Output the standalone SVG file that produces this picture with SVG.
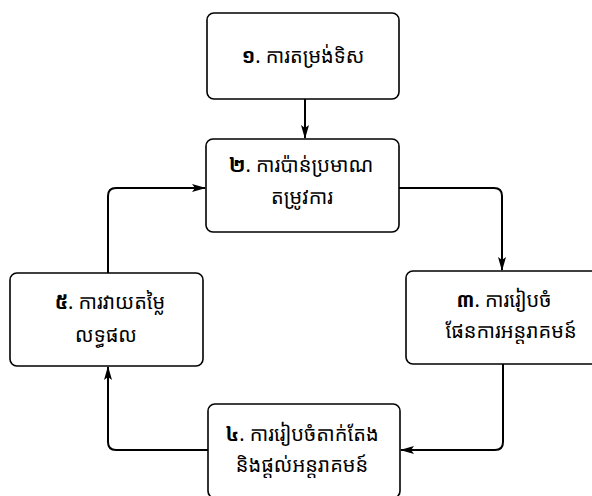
<svg xmlns="http://www.w3.org/2000/svg" width="592" height="496" viewBox="0 0 592 496">
<style>
.box{fill:#fff;stroke:#000;stroke-width:1.6}
.t{font-family:"Noto Sans Khmer","Khmer OS","Khmer OS Siemreap","Noto Serif Khmer","DejaVu Sans",sans-serif;font-size:20px;fill:#000;text-anchor:middle}
.n{font-weight:bold}
.c{fill:none;stroke:#000;stroke-width:2}
</style>
<defs>
<marker id="ah" viewBox="0 0 14 8" refX="13" refY="4" markerWidth="14" markerHeight="8" markerUnits="userSpaceOnUse" orient="auto">
<path d="M0,0 L14,4 L0,8 L3,4 Z" fill="#000"/>
</marker>
</defs>
<g id="connectors">
<path class="c" d="M305,99 L305,138" marker-end="url(#ah)"/>
<path class="c" d="M399,188 L494,188 Q502,188 502,196 L502,270" marker-end="url(#ah)"/>
<path class="c" d="M503,364 L503,442 Q503,450 495,450 L401,450" marker-end="url(#ah)"/>
<path class="c" d="M208,450 L116,450 Q108,450 108,442 L108,367" marker-end="url(#ah)"/>
<path class="c" d="M108,273 L108,196 Q108,188 116,188 L205,188" marker-end="url(#ah)"/>
</g>
<g id="node1">
<rect class="box" x="207" y="13" width="192" height="86" rx="7"/>
<text class="t" x="303" y="63"><tspan class="n">១</tspan>. ការតម្រង់ទិស</text>
</g>
<g id="node2">
<rect class="box" x="206" y="139" width="193" height="93" rx="7"/>
<text class="t" x="301" y="172"><tspan class="n">២</tspan>. ការប៉ាន់ប្រមាណ</text>
<text class="t" x="302" y="204">តម្រូវការ</text>
</g>
<g id="node3">
<rect class="box" x="406" y="271" width="193" height="93" rx="7"/>
<text class="t" x="504" y="307"><tspan class="n">៣</tspan>. ការរៀបចំ</text>
<text class="t" x="511" y="338">ផែនការអន្តរាគមន៍</text>
</g>
<g id="node4">
<rect class="box" x="208" y="404" width="192" height="94" rx="7"/>
<text class="t" x="302" y="441"><tspan class="n">៤</tspan>. ការរៀបចំតាក់តែង</text>
<text class="t" x="302" y="472">និងផ្ដល់អន្តរាគមន៍</text>
</g>
<g id="node5">
<rect class="box" x="10" y="273" width="193" height="93" rx="7"/>
<text class="t" x="110" y="309"><tspan class="n">៥</tspan>. ការវាយតម្លៃ</text>
<text class="t" x="106" y="342">លទ្ធផល</text>
</g>
</svg>
